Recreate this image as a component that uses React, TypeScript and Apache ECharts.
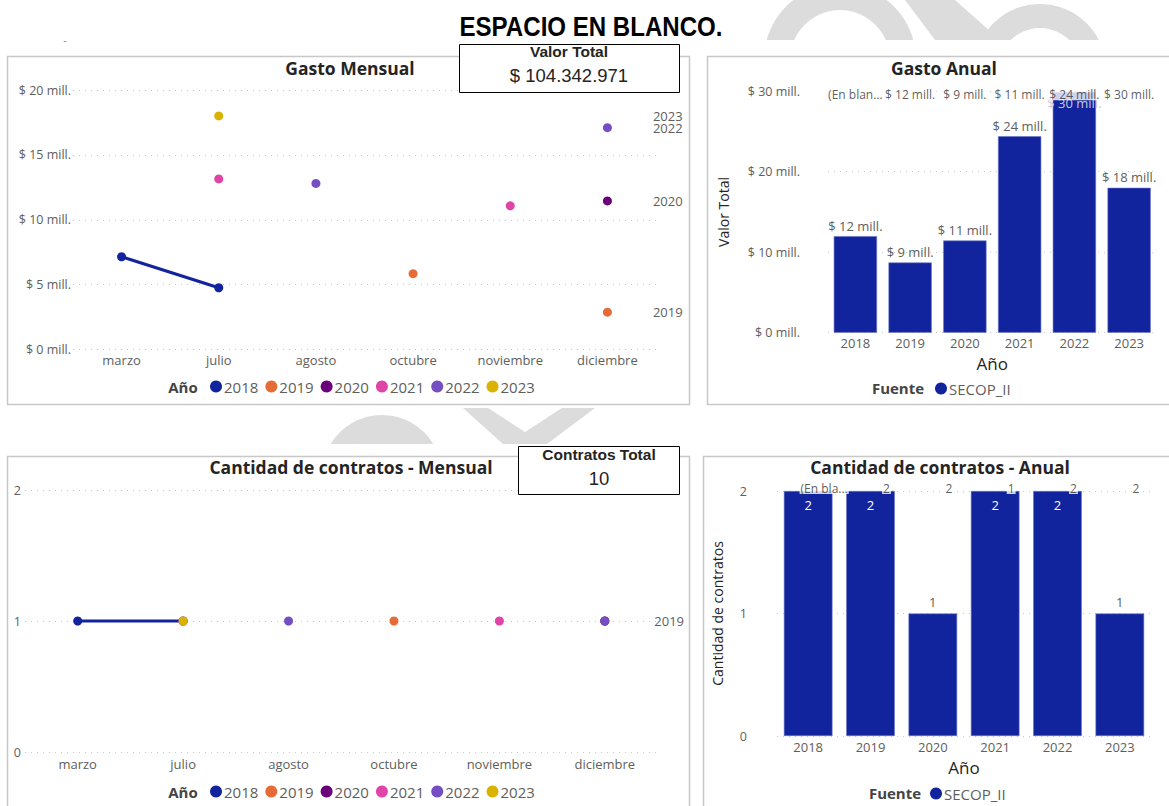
import React, { useEffect, useRef } from 'react';
import * as echarts from 'echarts';

// ---------- data ----------
const months = ['marzo', 'julio', 'agosto', 'octubre', 'noviembre', 'diciembre'];
const years = ['2018', '2019', '2020', '2021', '2022', '2023'];
const yearColors = ['#12239E', '#E66C37', '#6B007B', '#E044A7', '#744EC2', '#D9B300'];

// Gasto mensual (millones) per year, by month
const gasto2018 = [7.15, 4.76, null, null, null, null];
const gasto2019 = [null, null, null, 5.84, null, 2.88];
const gasto2020 = [null, null, null, null, null, 11.45];
const gasto2021 = [null, 13.15, null, null, 11.07, null];
const gasto2022 = [null, null, 12.8, null, null, 17.1];
const gasto2023 = [null, 18.0, null, null, null, null];
const gastoMensual = [gasto2018, gasto2019, gasto2020, gasto2021, gasto2022, gasto2023];
const gastoEndLabelYears = ['2019', '2020', '2022', '2023'];

// Cantidad de contratos mensual per year, by month
const contr2018 = [1, 1, null, null, null, null];
const contr2019 = [null, null, null, 1, null, 1];
const contr2020 = [null, null, null, null, null, 1];
const contr2021 = [null, 1, null, null, 1, null];
const contr2022 = [null, null, 1, null, null, 1];
const contr2023 = [null, 1, null, null, null, null];
const contratosMensual = [contr2018, contr2019, contr2020, contr2021, contr2022, contr2023];
const contratosEndLabelYears = ['2019'];

// Annual
const annualYears = ['2018', '2019', '2020', '2021', '2022', '2023'];
const gastoAnual = [12.0, 8.72, 11.45, 24.4, 29.9, 18.0];
const gastoTopRow = ['(En blan...', '$ 12 mill.', '$ 9 mill.', '$ 11 mill.', '$ 24 mill.', '$ 30 mill.'];
const contratosAnual = [2, 2, 1, 2, 2, 1];
const contratosTopRow = ['(En bla...', '2', '2', '1', '2', '2'];

// Axis ranges
const gastoMensualAxis = { min: 0, max: 20, interval: 5 };
const gastoAnualAxis = { min: 0, max: 30, interval: 10 };
const contratosAxis = { min: 0, max: 2, interval: 1 };

const valorTotal = '$ 104.342.971';
const contratosTotal = '10';

// ---------- styling ----------
const FONT = "'Segoe UI', 'Open Sans', sans-serif";
const AXIS_GRAY = '#605e5c';
const WM = '#dcdcdc';
const splitLine = { show: true, lineStyle: { color: '#c8c8c8', type: [1, 5], width: 1 } };

function lastValue(arr: (number | null)[]) {
  for (let i = arr.length - 1; i >= 0; i--) if (arr[i] != null) return arr[i];
  return null;
}

function lineSeries(idx: number, dataList: (number | null)[][], endYears: string[], dist: number) {
  return years.map((y, i) => ({
    type: 'line',
    name: y,
    xAxisIndex: idx,
    yAxisIndex: idx,
    data: dataList[i],
    connectNulls: false,
    symbol: 'circle',
    symbolSize: 9,
    showAllSymbol: true,
    color: yearColors[i],
    itemStyle: { color: yearColors[i] },
    lineStyle: { width: 3, color: yearColors[i] },
    markPoint: endYears.includes(y)
      ? {
          symbol: 'circle',
          symbolSize: 1,
          silent: true,
          itemStyle: { color: 'rgba(0,0,0,0)' },
          label: {
            show: true,
            position: 'right',
            distance: dist,
            formatter: y,
            color: AXIS_GRAY,
            fontSize: 13,
            fontFamily: FONT,
          },
          data: [{ coord: [months.length - 1, lastValue(dataList[i])] }],
        }
      : undefined,
  }));
}

function catAxis(idx: number, data: string[], margin: number, name?: string, nameGap?: number) {
  return {
    type: 'category',
    gridIndex: idx,
    data,
    axisLine: { show: false },
    axisTick: { show: false },
    axisLabel: { color: AXIS_GRAY, fontSize: 13, fontFamily: FONT, margin },
    name,
    nameLocation: 'middle',
    nameGap,
    nameTextStyle: { color: '#252423', fontSize: 17, fontFamily: FONT },
  };
}

function valAxis(idx: number, range: any, fmt: (v: number) => string, margin: number, name?: string, nameGap?: number) {
  return {
    type: 'value',
    gridIndex: idx,
    ...range,
    axisLine: { show: false },
    axisTick: { show: false },
    splitLine,
    axisLabel: { color: AXIS_GRAY, fontSize: 12.5, fontFamily: FONT, margin, formatter: fmt },
    name,
    nameLocation: 'middle',
    nameRotate: 90,
    nameGap,
    nameTextStyle: { color: '#252423', fontSize: 14, fontFamily: FONT },
  };
}

function txt(text: string, x: number, y: number, font: string, fill: string, align = 'center', z = 5, scaleX = 1) {
  return {
    type: 'text',
    x,
    y,
    z,
    scaleX,
    silent: true,
    style: { text, font, fill, align, verticalAlign: 'middle', textAlign: align, textVerticalAlign: 'middle' },
  };
}

function legendCfg(data: string[], left: number, top: number) {
  return {
    data,
    left,
    top,
    icon: 'circle',
    itemWidth: 12,
    itemHeight: 12,
    itemGap: 7,
    selectedMode: false,
    itemStyle: { borderWidth: 0 },
    textStyle: { fontSize: 15, color: AXIS_GRAY, fontFamily: FONT, padding: [0, 0, 0, -3] },
  };
}

function buildOption() {
  const mFmt = (v: number) => '$ ' + v + ' mill.';
  const plain = (v: number) => String(v);

  const graphic: any[] = [
    // watermark (visible only in the blank strips)
    { type: 'ring', z: -10, silent: true, shape: { cx: 840, cy: 60, r: 76, r0: 50 }, style: { fill: WM } },
    { type: 'polygon', z: -10, silent: true, shape: { points: [[905, 0], [955, 0], [1000, 40], [935, 40]] }, style: { fill: WM } },
    { type: 'ring', z: -10, silent: true, shape: { cx: 1040, cy: 70, r: 66, r0: 42 }, style: { fill: WM } },
    { type: 'circle', z: -10, silent: true, shape: { cx: 382, cy: 475, r: 60 }, style: { fill: WM } },
    {
      type: 'polygon', z: -10, silent: true,
      shape: { points: [[463, 408], [488, 408], [525, 432], [562, 408], [595, 408], [547, 444], [503, 444]] },
      style: { fill: WM },
    },
    // white covers
    { type: 'rect', z: -9, silent: true, shape: { x: 0, y: 40, width: 1169, height: 368 }, style: { fill: '#fff' } },
    { type: 'rect', z: -9, silent: true, shape: { x: 0, y: 444, width: 1169, height: 362 }, style: { fill: '#fff' } },
    // panels
    { type: 'rect', z: -8, silent: true, shape: { x: 7.5, y: 56.5, width: 682, height: 348 }, style: { fill: '#fff', stroke: '#c8c8c8', lineWidth: 1.5 } },
    { type: 'rect', z: -8, silent: true, shape: { x: 707.5, y: 56.5, width: 470, height: 348 }, style: { fill: '#fff', stroke: '#c8c8c8', lineWidth: 1.5 } },
    { type: 'rect', z: -8, silent: true, shape: { x: 7.5, y: 456.5, width: 682, height: 360 }, style: { fill: '#fff', stroke: '#c8c8c8', lineWidth: 1.5 } },
    { type: 'rect', z: -8, silent: true, shape: { x: 703.5, y: 456.5, width: 474, height: 360 }, style: { fill: '#fff', stroke: '#c8c8c8', lineWidth: 1.5 } },
    // page title
    txt('ESPACIO EN BLANCO.', 591, 26, 'bold 28px "Liberation Sans", Arial, sans-serif', '#000', 'center', 5, 0.86),
    txt('-', 65, 39, '11px ' + FONT, '#888'),
    // chart titles
    txt('Gasto Mensual', 350, 68, 'bold 17.5px ' + FONT, '#252423'),
    txt('Gasto Anual', 944, 68, 'bold 17.5px ' + FONT, '#252423'),
    txt('Cantidad de contratos - Mensual', 351, 467, 'bold 17.5px ' + FONT, '#252423'),
    txt('Cantidad de contratos - Anual', 940, 467, 'bold 17.5px ' + FONT, '#252423'),
    // legend titles
    txt('Año', 183, 387, 'bold 15px ' + FONT, '#444'),
    txt('Año', 183, 792, 'bold 15px ' + FONT, '#444'),
    txt('Fuente', 898, 388, 'bold 15px ' + FONT, '#444'),
    txt('Fuente', 895, 793, 'bold 15px ' + FONT, '#444'),
    // cards
    { type: 'rect', z: 20, silent: true, shape: { x: 459.5, y: 44.5, width: 220, height: 48 }, style: { fill: '#fff', stroke: '#000', lineWidth: 1 } },
    txt('Valor Total', 569, 51, 'bold 15.5px "Liberation Sans", Arial, sans-serif', '#252423', 'center', 21),
    txt(valorTotal, 569, 75, '18.5px "Liberation Sans", Arial, sans-serif', '#252423', 'center', 21),
    { type: 'rect', z: 20, silent: true, shape: { x: 518.5, y: 446.5, width: 161, height: 48 }, style: { fill: '#fff', stroke: '#000', lineWidth: 1 } },
    txt('Contratos Total', 599, 454, 'bold 15.5px "Liberation Sans", Arial, sans-serif', '#252423', 'center', 21),
    txt(contratosTotal, 599, 478, '18.5px "Liberation Sans", Arial, sans-serif', '#252423', 'center', 21),
  ];

  const series: any[] = [
    ...lineSeries(0, gastoMensual, gastoEndLabelYears, 45),
    ...lineSeries(2, contratosMensual, contratosEndLabelYears, 49),
    {
      type: 'bar',
      name: 'SECOP_II',
      xAxisIndex: 1,
      yAxisIndex: 1,
      barCategoryGap: '21%',
      color: '#12239E',
      itemStyle: { color: '#12239E', borderColor: '#6a76c8', borderWidth: 0.6 },
      data: gastoAnual.map((v) => ({
        value: v,
        label: v >= gastoAnualAxis.max * 0.95 ? { position: 'insideTop', color: '#c8c8d8' } : undefined,
      })),
      label: {
        show: true,
        position: 'top',
        distance: 4,
        formatter: (p: any) => '$ ' + Math.round(p.value) + ' mill.',
        color: AXIS_GRAY,
        fontSize: 13,
        fontFamily: FONT,
      },
    },
    {
      type: 'scatter',
      name: 'En blanco',
      xAxisIndex: 1,
      yAxisIndex: 1,
      symbolSize: 1,
      z: 5,
      itemStyle: { color: 'rgba(0,0,0,0)' },
      data: gastoTopRow.map(() => gastoAnualAxis.max),
      label: {
        show: true,
        position: 'inside',
        offset: [0, 3],
        formatter: (p: any) => gastoTopRow[p.dataIndex],
        color: '#333',
        fontSize: 12,
        fontFamily: FONT,
        backgroundColor: '#fff',
        padding: [0, 1],
      },
    },
    {
      type: 'bar',
      name: 'SECOP_II',
      xAxisIndex: 3,
      yAxisIndex: 3,
      barCategoryGap: '22%',
      color: '#12239E',
      itemStyle: { color: '#12239E', borderColor: '#6a76c8', borderWidth: 0.6 },
      data: contratosAnual.map((v) => ({
        value: v,
        label: v >= contratosAxis.max ? { position: 'insideTop', color: '#fff', distance: 7 } : undefined,
      })),
      label: {
        show: true,
        position: 'top',
        distance: 5,
        color: AXIS_GRAY,
        fontSize: 13,
        fontFamily: FONT,
      },
    },
    {
      type: 'scatter',
      name: 'En blanco',
      xAxisIndex: 3,
      yAxisIndex: 3,
      symbolSize: 1,
      z: 5,
      itemStyle: { color: 'rgba(0,0,0,0)' },
      data: contratosTopRow.map(() => contratosAxis.max),
      label: {
        show: true,
        position: 'inside',
        offset: [16, -3],
        formatter: (p: any) => contratosTopRow[p.dataIndex],
        color: '#333',
        fontSize: 12,
        fontFamily: FONT,
        backgroundColor: '#fff',
        padding: [0, 1],
      },
    },
  ];

  return {
    animation: false,
    backgroundColor: '#fff',
    textStyle: { fontFamily: FONT },
    grid: [
      { left: 73, top: 90, width: 583, height: 259.5 },
      { left: 828, top: 91.2, width: 328.5, height: 241.5 },
      { left: 25, top: 490, width: 632.5, height: 262 },
      { left: 777, top: 491, width: 374, height: 245 },
    ],
    xAxis: [
      catAxis(0, months, 4),
      catAxis(1, annualYears, 4, 'Año', 22),
      catAxis(2, months, 5),
      catAxis(3, annualYears, 4, 'Año', 23),
    ],
    yAxis: [
      valAxis(0, gastoMensualAxis, mFmt, 2),
      valAxis(1, gastoAnualAxis, mFmt, 28, 'Valor Total', 98),
      valAxis(2, contratosAxis, plain, 4),
      valAxis(3, contratosAxis, plain, 30, 'Cantidad de contratos', 53),
    ],
    legend: [
      legendCfg(years, 205, 374),
      legendCfg(years, 205, 779),
      legendCfg(['SECOP_II'], 930, 376),
      legendCfg(['SECOP_II'], 925, 781),
    ],
    graphic,
    series,
  };
}

export default function App() {
  const ref = useRef<HTMLDivElement>(null);
  useEffect(() => {
    if (!ref.current) return;
    const chart = echarts.init(ref.current, undefined, { renderer: 'svg' });
    chart.setOption(buildOption() as any);
    return () => chart.dispose();
  }, []);
  return (
    <div
      ref={ref}
      style={{ position: 'absolute', left: 0, top: 0, width: 1169, height: 806, background: '#fff' }}
    />
  );
}
